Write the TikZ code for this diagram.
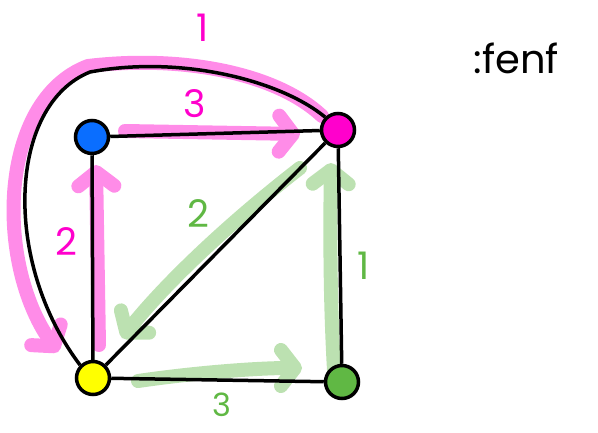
\documentclass[tikz,border=0pt]{standalone}
\usepackage{fontspec}
\setmainfont{Poppins}
\usetikzlibrary{arrows.meta}
\definecolor{pk}{HTML}{FF00CC}
\definecolor{gn}{HTML}{60B844}
\definecolor{bl}{HTML}{0A6EFF}
\definecolor{yl}{HTML}{FFFF00}
\tikzset{
  vert/.style={circle,draw=black,line width=3.5pt,minimum size=33pt,inner sep=0pt},
  edge/.style={draw=black,line width=3.5pt},
  hl/.style={line width=14pt,line cap=round,line join=round,
    -{Straight Barb[round,length=14pt,width=36pt]}},
  lab/.style={font=\fontsize{38}{38}\selectfont,inner sep=0pt},
}
\begin{document}
\begin{tikzpicture}[x=1pt,y=-1pt]
\useasboundingbox (0,0) rectangle (598,432);
% highlights
\begin{scope}[transparency group,opacity=0.45]
\draw[hl,pk] (322,116) .. controls (275,72) and (180,55) .. (88,66) .. controls (-2,100) and (-5,262) .. (58,352);
\end{scope}
\begin{scope}[transparency group,opacity=0.45]
\draw[hl,pk] (99,345) -- (96,165);
\end{scope}
\begin{scope}[transparency group,opacity=0.45]
\draw[hl,pk] (125,131) -- (300,134);
\end{scope}
\begin{scope}[transparency group,opacity=0.42]
\draw[hl,gn] (300,168) .. controls (220,230) and (160,290) .. (122,338);
\end{scope}
\begin{scope}[transparency group,opacity=0.42]
\draw[hl,gn] (334,370) .. controls (330,300) and (330,230) .. (331,163);
\end{scope}
\begin{scope}[transparency group,opacity=0.42]
\draw[hl,gn] (138,381) .. controls (200,372) and (260,368) .. (302,368);
\end{scope}
% nodes
\node[vert,fill=bl] (B) at (92,137) {};
\node[vert,fill=pk] (M) at (338,130) {};
\node[vert,fill=yl] (Y) at (93,378) {};
\node[vert,fill=gn] (G) at (342,382) {};
% edges
\draw[edge] (B) -- (M);
\draw[edge] (B) -- (Y);
\draw[edge] (Y) -- (M);
\draw[edge] (Y) -- (G);
\draw[edge] (M) -- (G);
\draw[edge] (Y.north west) .. controls (2,262) and (8,105) .. (90,72) .. controls (180,55) and (280,80) .. (M.north west);
% labels
\node[lab,text=pk] (l1) at (203,28) {1};
\node[lab,text=pk] (l3) at (195,104) {3};
\node[lab,text=pk] (l2) at (66,242) {2};
\node[lab,text=gn] (g2) at (198,214) {2};
\node[lab,text=gn] (g1) at (364,266) {1};
\node[lab,text=gn,font=\fontsize{32}{32}\selectfont] (g3) at (222,405) {3};
\node[font=\fontsize{40}{40}\selectfont,anchor=west] (t) at (470,58) {:fenf};
\end{tikzpicture}
\end{document}
